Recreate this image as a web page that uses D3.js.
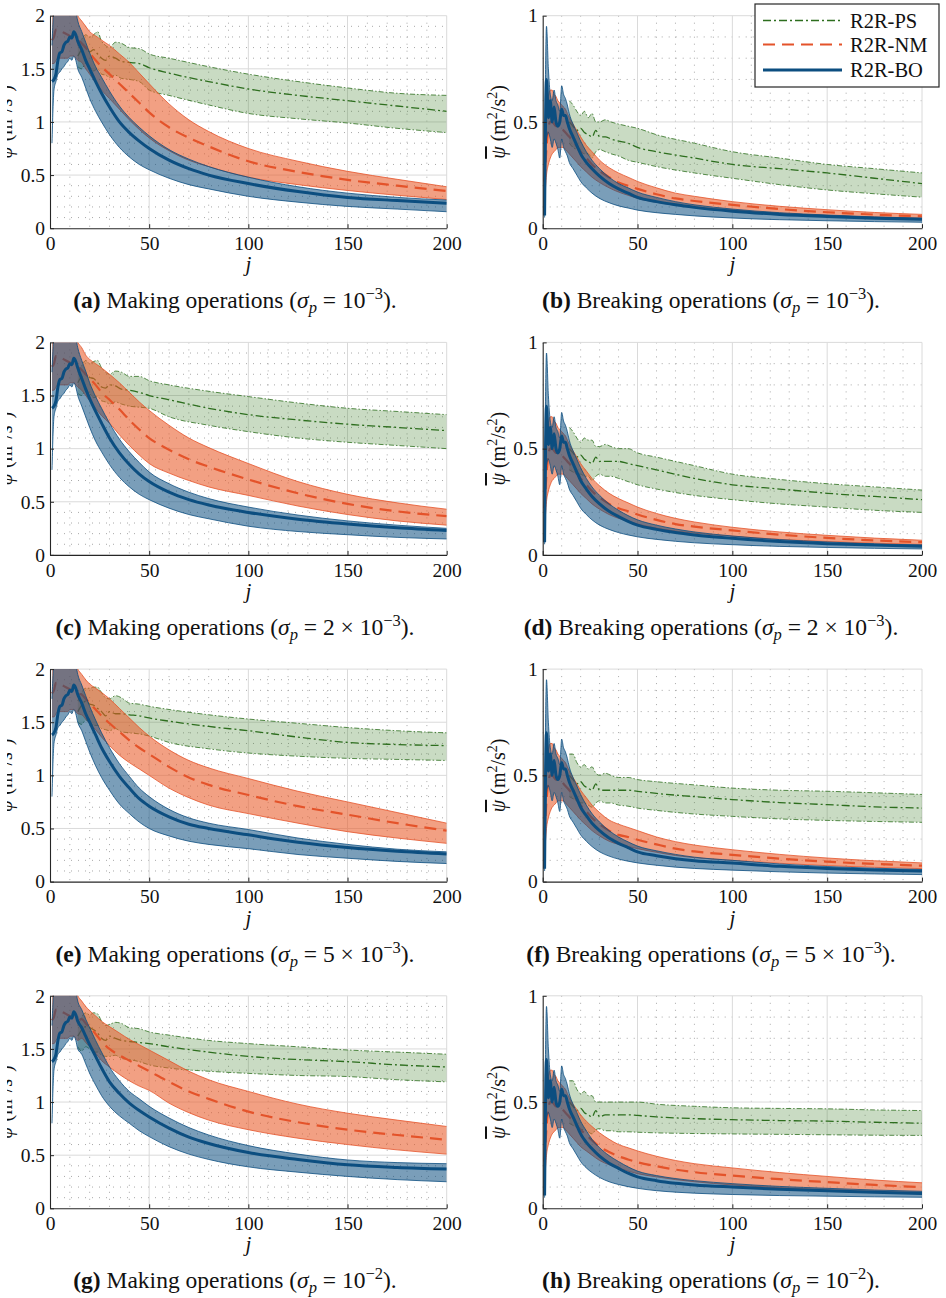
<!DOCTYPE html>
<html><head><meta charset="utf-8">
<script src="https://cdn.jsdelivr.net/npm/d3@7"></script>
<style>
body{margin:0;background:#fff}
svg{display:block}
svg text{font-family:"Liberation Serif","DejaVu Serif",serif !important;fill:#111}
</style>
</head><body>
<svg id="chart" width="946" height="1298"></svg>
<script>
// ---------------- DATA ----------------
const X_TICKS = [0, 50, 100, 150, 200];
const Y_TICKS_MAKING = [0, 0.5, 1, 1.5, 2];
const Y_TICKS_BREAKING = [0, 0.5, 1];
const SERIES_NAMES = ["R2R-PS", "R2R-NM", "R2R-BO"];
const PANEL_LETTERS = ["a","b","c","d","e","f","g","h"];
const PANEL_KIND = ["Making","Breaking","Making","Breaking","Making","Breaking","Making","Breaking"];
const SIGMA_MANT = ["","","2 × ","2 × ","5 × ","5 × ","",""];
const SIGMA_EXP = ["−3","−3","−3","−3","−3","−3","−2","−2"];

// iteration index samples
const J_EARLY = [1,2,3,4,5,6,7,8,9,10,11,12,13,14];
const J_LATE = [16,18,20,23,26,30,35,40,45,50,60,70,80,100,125,150,175,200];
const J_PS = [14,16,18,20,22,24,26,28,30,33,36,40,45,50,60,80,100,125,150,175,200];

// shared early part, making operations
const MK_BO_MEAN_E = [1.38,1.40,1.45,1.58,1.65,1.66,1.72,1.75,1.76,1.80,1.79,1.85,1.82,1.76];
const MK_BO_HI_E   = [1.72,2.06,2.10,2.10,2.08,2.10,2.05,2.10,2.10,2.06,2.10,2.10,2.04,1.95];
const MK_BO_LO_E   = [0.80,1.30,1.38,1.45,1.47,1.50,1.52,1.55,1.57,1.60,1.58,1.62,1.58,1.50];
const MK_NM_MEAN_E = [1.77,1.80,1.87,1.87,1.86,1.85,1.84,1.83,1.82,1.81,1.80,1.80,1.78,1.77];
const MK_NM_HI_E   = [2.05,2.05,2.10,2.10,2.10,2.10,2.10,2.10,2.10,2.10,2.10,2.08,2.04,2.00];
const MK_NM_LO_E   = [1.55,1.55,1.58,1.60,1.60,1.60,1.60,1.60,1.60,1.62,1.62,1.62,1.60,1.58];
// shared early part, breaking operations
const BK_BO_MEAN_E = [0.06,0.70,0.52,0.60,0.50,0.57,0.50,0.48,0.50,0.56,0.53,0.53,0.50,0.47];
const BK_BO_HI_E   = [0.30,0.95,0.75,0.63,0.60,0.65,0.60,0.58,0.55,0.67,0.63,0.61,0.58,0.54];
const BK_BO_LO_E   = [0.05,0.42,0.45,0.42,0.38,0.42,0.40,0.37,0.33,0.42,0.38,0.36,0.34,0.31];
const BK_NM_MEAN_E = [0.22,0.38,0.47,0.50,0.50,0.49,0.48,0.48,0.47,0.47,0.46,0.45,0.44,0.43];
const BK_NM_HI_E   = [0.30,0.55,0.62,0.65,0.65,0.63,0.62,0.60,0.59,0.58,0.57,0.56,0.54,0.52];
const BK_NM_LO_E   = [0.12,0.25,0.30,0.33,0.35,0.36,0.37,0.38,0.38,0.38,0.38,0.37,0.36,0.35];

// (a) making, sigma 1e-3
const A_BO_MEAN = [1.68,1.58,1.50,1.38,1.27,1.14,1.00,0.90,0.82,0.75,0.64,0.56,0.50,0.42,0.345,0.29,0.26,0.235];
const A_BO_HI   = [1.85,1.75,1.65,1.52,1.42,1.29,1.15,1.04,0.95,0.87,0.74,0.65,0.58,0.48,0.39,0.33,0.29,0.265];
const A_BO_LO   = [1.42,1.32,1.22,1.10,1.00,0.88,0.76,0.67,0.60,0.55,0.47,0.41,0.37,0.30,0.245,0.205,0.18,0.155];
const A_NM_MEAN = [1.74,1.70,1.65,1.58,1.52,1.45,1.36,1.27,1.18,1.09,0.95,0.85,0.77,0.63,0.53,0.455,0.40,0.35];
const A_NM_HI   = [1.95,1.90,1.85,1.81,1.77,1.72,1.64,1.56,1.46,1.36,1.17,1.02,0.91,0.75,0.63,0.535,0.46,0.39];
const A_NM_LO   = [1.56,1.50,1.45,1.37,1.30,1.22,1.12,1.02,0.93,0.85,0.73,0.64,0.58,0.48,0.41,0.355,0.31,0.27];
const A_PS_MEAN = [1.62,1.68,1.70,1.66,1.68,1.64,1.60,1.58,1.62,1.60,1.57,1.56,1.55,1.51,1.46,1.38,1.31,1.25,1.20,1.15,1.10];
const A_PS_HI   = [1.72,1.78,1.82,1.80,1.82,1.85,1.76,1.72,1.70,1.75,1.74,1.70,1.69,1.64,1.60,1.52,1.45,1.38,1.32,1.27,1.25];
const A_PS_LO   = [1.52,1.50,1.55,1.52,1.48,1.50,1.45,1.44,1.42,1.44,1.41,1.40,1.38,1.30,1.25,1.16,1.08,1.03,0.99,0.94,0.90];

// (b) breaking, sigma 1e-3
const B_BO_MEAN = [0.43,0.39,0.35,0.31,0.28,0.245,0.21,0.185,0.165,0.145,0.125,0.11,0.098,0.08,0.065,0.055,0.047,0.042];
const B_BO_HI   = [0.49,0.45,0.41,0.36,0.32,0.28,0.24,0.21,0.19,0.17,0.145,0.125,0.11,0.09,0.073,0.062,0.053,0.047];
const B_BO_LO   = [0.28,0.25,0.22,0.19,0.165,0.14,0.12,0.105,0.095,0.085,0.073,0.065,0.058,0.048,0.04,0.035,0.031,0.028];
const B_NM_MEAN = [0.41,0.385,0.36,0.33,0.30,0.27,0.24,0.215,0.20,0.185,0.16,0.14,0.128,0.11,0.09,0.075,0.064,0.056];
const B_NM_HI   = [0.49,0.46,0.43,0.39,0.36,0.32,0.285,0.26,0.24,0.22,0.19,0.165,0.15,0.125,0.103,0.087,0.074,0.065];
const B_NM_LO   = [0.33,0.31,0.29,0.265,0.24,0.215,0.19,0.17,0.155,0.14,0.122,0.108,0.098,0.085,0.07,0.06,0.052,0.046];
const B_PS_MEAN = [0.50,0.48,0.46,0.47,0.45,0.44,0.43,0.46,0.43,0.43,0.42,0.41,0.40,0.38,0.36,0.33,0.30,0.28,0.26,0.235,0.21];
const B_PS_HI   = [0.60,0.58,0.55,0.53,0.55,0.52,0.54,0.50,0.50,0.51,0.50,0.49,0.48,0.47,0.44,0.40,0.36,0.33,0.30,0.28,0.26];
const B_PS_LO   = [0.40,0.38,0.37,0.36,0.35,0.35,0.33,0.36,0.37,0.36,0.35,0.34,0.32,0.31,0.29,0.26,0.235,0.205,0.18,0.162,0.146];

// (c) making, sigma 2e-3
const C_BO_MEAN = [1.66,1.56,1.47,1.35,1.24,1.10,0.96,0.85,0.76,0.69,0.59,0.52,0.47,0.40,0.335,0.29,0.255,0.23];
const C_BO_HI   = [1.83,1.73,1.62,1.49,1.38,1.24,1.09,0.97,0.87,0.78,0.67,0.59,0.53,0.45,0.375,0.32,0.28,0.25];
const C_BO_LO   = [1.40,1.30,1.20,1.07,0.97,0.85,0.73,0.64,0.57,0.52,0.44,0.38,0.34,0.27,0.22,0.19,0.165,0.15];
const C_NM_MEAN = [1.74,1.70,1.66,1.60,1.53,1.46,1.37,1.27,1.18,1.10,0.99,0.90,0.83,0.71,0.58,0.48,0.41,0.365];
const C_NM_HI   = [1.95,1.88,1.84,1.80,1.76,1.70,1.62,1.53,1.44,1.36,1.22,1.10,1.01,0.86,0.69,0.57,0.49,0.43];
const C_NM_LO   = [1.55,1.50,1.45,1.38,1.31,1.24,1.13,1.03,0.94,0.86,0.77,0.70,0.64,0.56,0.46,0.38,0.32,0.28];
const C_PS_MEAN = [1.62,1.68,1.70,1.67,1.66,1.62,1.58,1.57,1.60,1.59,1.56,1.55,1.53,1.50,1.46,1.38,1.32,1.27,1.23,1.20,1.17];
const C_PS_HI   = [1.72,1.78,1.83,1.80,1.82,1.83,1.76,1.72,1.70,1.73,1.72,1.68,1.68,1.64,1.60,1.54,1.49,1.43,1.38,1.35,1.32];
const C_PS_LO   = [1.52,1.50,1.55,1.52,1.48,1.49,1.45,1.44,1.42,1.44,1.42,1.40,1.39,1.38,1.30,1.22,1.16,1.10,1.06,1.03,1.00];

// (d) breaking, sigma 2e-3
const D_BO_MEAN = [0.43,0.39,0.35,0.31,0.275,0.24,0.205,0.18,0.158,0.14,0.12,0.105,0.094,0.078,0.063,0.053,0.046,0.041];
const D_BO_HI   = [0.49,0.45,0.41,0.36,0.32,0.28,0.24,0.21,0.185,0.165,0.14,0.122,0.108,0.089,0.072,0.061,0.052,0.047];
const D_BO_LO   = [0.28,0.25,0.22,0.19,0.165,0.14,0.12,0.105,0.094,0.085,0.073,0.064,0.057,0.048,0.04,0.035,0.031,0.028];
const D_NM_MEAN = [0.41,0.385,0.36,0.33,0.30,0.27,0.24,0.22,0.205,0.19,0.165,0.145,0.133,0.115,0.095,0.08,0.068,0.06];
const D_NM_HI   = [0.49,0.46,0.43,0.395,0.36,0.325,0.29,0.265,0.245,0.225,0.195,0.172,0.155,0.13,0.108,0.092,0.079,0.069];
const D_NM_LO   = [0.33,0.31,0.29,0.265,0.24,0.215,0.19,0.172,0.158,0.145,0.126,0.112,0.102,0.088,0.073,0.063,0.055,0.049];
const D_PS_MEAN = [0.50,0.48,0.46,0.47,0.45,0.44,0.43,0.46,0.44,0.44,0.44,0.44,0.43,0.42,0.40,0.36,0.33,0.31,0.29,0.275,0.26];
const D_PS_HI   = [0.60,0.58,0.55,0.53,0.55,0.54,0.54,0.51,0.51,0.52,0.51,0.50,0.50,0.48,0.46,0.42,0.38,0.355,0.335,0.32,0.305];
const D_PS_LO   = [0.40,0.39,0.38,0.38,0.37,0.37,0.35,0.37,0.38,0.37,0.37,0.36,0.345,0.33,0.31,0.28,0.26,0.24,0.225,0.21,0.20];

// (e) making, sigma 5e-3
const E_BO_MEAN = [1.68,1.58,1.50,1.38,1.26,1.13,0.99,0.88,0.78,0.71,0.61,0.54,0.50,0.44,0.37,0.32,0.285,0.26];
const E_BO_HI   = [1.85,1.75,1.65,1.52,1.40,1.26,1.11,0.99,0.88,0.80,0.68,0.60,0.55,0.49,0.41,0.35,0.305,0.28];
const E_BO_LO   = [1.42,1.32,1.22,1.09,0.98,0.86,0.73,0.64,0.56,0.50,0.43,0.38,0.35,0.31,0.255,0.22,0.19,0.17];
const E_NM_MEAN = [1.76,1.72,1.68,1.62,1.56,1.49,1.41,1.33,1.26,1.20,1.08,0.98,0.91,0.815,0.71,0.63,0.55,0.48];
const E_NM_HI   = [1.95,1.90,1.86,1.82,1.78,1.72,1.63,1.54,1.45,1.37,1.24,1.14,1.07,0.97,0.85,0.75,0.65,0.55];
const E_NM_LO   = [1.57,1.53,1.49,1.43,1.36,1.28,1.19,1.12,1.06,1.00,0.88,0.79,0.72,0.64,0.55,0.47,0.41,0.36];
const E_PS_MEAN = [1.60,1.66,1.70,1.67,1.66,1.63,1.60,1.56,1.60,1.58,1.58,1.57,1.56,1.54,1.51,1.46,1.42,1.36,1.31,1.29,1.28];
const E_PS_HI   = [1.70,1.78,1.82,1.82,1.83,1.83,1.78,1.73,1.72,1.75,1.73,1.68,1.67,1.65,1.62,1.57,1.53,1.49,1.45,1.42,1.40];
const E_PS_LO   = [1.50,1.48,1.52,1.50,1.47,1.47,1.44,1.43,1.42,1.44,1.41,1.40,1.39,1.37,1.31,1.25,1.21,1.18,1.16,1.15,1.14];

// (f) breaking, sigma 5e-3
const F_BO_MEAN = [0.43,0.39,0.35,0.31,0.275,0.24,0.205,0.18,0.16,0.14,0.122,0.108,0.098,0.087,0.072,0.062,0.055,0.05];
const F_BO_HI   = [0.49,0.45,0.41,0.36,0.32,0.28,0.24,0.21,0.187,0.167,0.145,0.128,0.115,0.10,0.083,0.071,0.063,0.057];
const F_BO_LO   = [0.28,0.25,0.22,0.19,0.165,0.14,0.12,0.106,0.096,0.088,0.077,0.068,0.062,0.054,0.046,0.04,0.036,0.033];
const F_NM_MEAN = [0.41,0.385,0.36,0.33,0.30,0.27,0.24,0.22,0.21,0.197,0.175,0.155,0.142,0.126,0.108,0.094,0.083,0.075];
const F_NM_HI   = [0.49,0.46,0.43,0.395,0.36,0.325,0.29,0.27,0.255,0.24,0.21,0.188,0.172,0.15,0.128,0.111,0.098,0.088];
const F_NM_LO   = [0.33,0.31,0.29,0.265,0.24,0.215,0.19,0.175,0.165,0.155,0.138,0.123,0.113,0.10,0.086,0.075,0.067,0.061];
const F_PS_MEAN = [0.50,0.48,0.46,0.47,0.45,0.44,0.43,0.46,0.43,0.43,0.43,0.43,0.43,0.425,0.415,0.40,0.386,0.372,0.362,0.352,0.346];
const F_PS_HI   = [0.60,0.60,0.56,0.54,0.55,0.53,0.54,0.51,0.50,0.51,0.50,0.49,0.49,0.48,0.47,0.455,0.44,0.43,0.425,0.418,0.41];
const F_PS_LO   = [0.40,0.39,0.38,0.37,0.37,0.36,0.35,0.37,0.38,0.37,0.37,0.36,0.355,0.346,0.335,0.318,0.307,0.295,0.288,0.283,0.279];

// (g) making, sigma 1e-2
const G_BO_MEAN = [1.70,1.62,1.54,1.43,1.32,1.19,1.08,0.99,0.92,0.86,0.755,0.67,0.61,0.525,0.46,0.41,0.385,0.37];
const G_BO_HI   = [1.87,1.78,1.70,1.58,1.47,1.33,1.20,1.10,1.03,0.96,0.85,0.76,0.69,0.59,0.51,0.455,0.43,0.42];
const G_BO_LO   = [1.45,1.36,1.27,1.16,1.06,0.96,0.87,0.80,0.73,0.675,0.58,0.51,0.46,0.39,0.34,0.30,0.27,0.25];
const G_NM_MEAN = [1.78,1.74,1.70,1.64,1.57,1.50,1.44,1.39,1.34,1.29,1.19,1.10,1.03,0.91,0.81,0.74,0.69,0.645];
const G_NM_HI   = [1.95,1.90,1.86,1.81,1.76,1.71,1.65,1.59,1.54,1.49,1.39,1.29,1.21,1.10,0.98,0.895,0.83,0.77];
const G_NM_LO   = [1.60,1.56,1.52,1.46,1.39,1.33,1.26,1.20,1.15,1.11,0.99,0.90,0.83,0.74,0.66,0.60,0.55,0.51];
const G_PS_MEAN = [1.62,1.68,1.71,1.70,1.68,1.65,1.60,1.58,1.62,1.60,1.58,1.57,1.56,1.55,1.52,1.47,1.43,1.40,1.38,1.35,1.33];
const G_PS_HI   = [1.72,1.80,1.84,1.82,1.84,1.83,1.76,1.72,1.73,1.75,1.74,1.70,1.69,1.66,1.63,1.58,1.55,1.52,1.49,1.47,1.45];
const G_PS_LO   = [1.52,1.48,1.52,1.50,1.47,1.47,1.44,1.43,1.43,1.44,1.41,1.40,1.38,1.35,1.32,1.29,1.27,1.25,1.24,1.21,1.19];

// (h) breaking, sigma 1e-2
const H_BO_MEAN = [0.43,0.39,0.35,0.31,0.28,0.245,0.212,0.188,0.165,0.148,0.13,0.118,0.11,0.10,0.09,0.083,0.076,0.07];
const H_BO_HI   = [0.49,0.45,0.41,0.365,0.325,0.285,0.248,0.22,0.195,0.175,0.154,0.14,0.13,0.116,0.103,0.094,0.086,0.08];
const H_BO_LO   = [0.28,0.25,0.22,0.19,0.168,0.145,0.125,0.112,0.102,0.094,0.083,0.076,0.071,0.065,0.06,0.057,0.054,0.052];
const H_NM_MEAN = [0.41,0.39,0.37,0.345,0.32,0.29,0.265,0.245,0.23,0.217,0.198,0.182,0.17,0.154,0.137,0.123,0.11,0.10];
const H_NM_HI   = [0.49,0.465,0.44,0.41,0.385,0.355,0.325,0.30,0.285,0.27,0.245,0.225,0.21,0.19,0.168,0.15,0.133,0.12];
const H_NM_LO   = [0.33,0.31,0.29,0.27,0.25,0.225,0.205,0.19,0.175,0.163,0.148,0.135,0.125,0.11,0.096,0.085,0.076,0.068];
const H_PS_MEAN = [0.50,0.48,0.46,0.47,0.45,0.44,0.43,0.46,0.43,0.44,0.44,0.44,0.44,0.437,0.43,0.422,0.417,0.413,0.41,0.405,0.40];
const H_PS_HI   = [0.60,0.60,0.56,0.54,0.55,0.53,0.53,0.50,0.50,0.50,0.50,0.50,0.50,0.50,0.49,0.48,0.473,0.47,0.468,0.463,0.46];
const H_PS_LO   = [0.40,0.39,0.38,0.37,0.37,0.36,0.35,0.37,0.375,0.365,0.365,0.36,0.36,0.358,0.355,0.352,0.35,0.348,0.346,0.344,0.343];

// ---------------- ASSEMBLY ----------------
function band(js, mean, lo, hi) {
  return js.map((j, k) => ({ j: j, m: mean[k], lo: lo[k], hi: hi[k] }));
}
function panel(kind, bo, nm, ps) {
  const mk = kind === "Making";
  return {
    PS: band(J_PS, ps[0], ps[1], ps[2]),
    NM: band(J_EARLY.concat(J_LATE),
      (mk ? MK_NM_MEAN_E : BK_NM_MEAN_E).concat(nm[0]),
      (mk ? MK_NM_LO_E : BK_NM_LO_E).concat(nm[1]),
      (mk ? MK_NM_HI_E : BK_NM_HI_E).concat(nm[2])),
    BO: band(J_EARLY.concat(J_LATE),
      (mk ? MK_BO_MEAN_E : BK_BO_MEAN_E).concat(bo[0]),
      (mk ? MK_BO_LO_E : BK_BO_LO_E).concat(bo[1]),
      (mk ? MK_BO_HI_E : BK_BO_HI_E).concat(bo[2]))
  };
}
const PANELS = [
  panel("Making",   [A_BO_MEAN,A_BO_LO,A_BO_HI], [A_NM_MEAN,A_NM_LO,A_NM_HI], [A_PS_MEAN,A_PS_LO,A_PS_HI]),
  panel("Breaking", [B_BO_MEAN,B_BO_LO,B_BO_HI], [B_NM_MEAN,B_NM_LO,B_NM_HI], [B_PS_MEAN,B_PS_LO,B_PS_HI]),
  panel("Making",   [C_BO_MEAN,C_BO_LO,C_BO_HI], [C_NM_MEAN,C_NM_LO,C_NM_HI], [C_PS_MEAN,C_PS_LO,C_PS_HI]),
  panel("Breaking", [D_BO_MEAN,D_BO_LO,D_BO_HI], [D_NM_MEAN,D_NM_LO,D_NM_HI], [D_PS_MEAN,D_PS_LO,D_PS_HI]),
  panel("Making",   [E_BO_MEAN,E_BO_LO,E_BO_HI], [E_NM_MEAN,E_NM_LO,E_NM_HI], [E_PS_MEAN,E_PS_LO,E_PS_HI]),
  panel("Breaking", [F_BO_MEAN,F_BO_LO,F_BO_HI], [F_NM_MEAN,F_NM_LO,F_NM_HI], [F_PS_MEAN,F_PS_LO,F_PS_HI]),
  panel("Making",   [G_BO_MEAN,G_BO_LO,G_BO_HI], [G_NM_MEAN,G_NM_LO,G_NM_HI], [G_PS_MEAN,G_PS_LO,G_PS_HI]),
  panel("Breaking", [H_BO_MEAN,H_BO_LO,H_BO_HI], [H_NM_MEAN,H_NM_LO,H_NM_HI], [H_PS_MEAN,H_PS_LO,H_PS_HI])
];

// ---------------- STYLE ----------------
const SERIF = '"Liberation Serif","DejaVu Serif",serif';
const STYLE = {
  PS: { line: "#2d6e1e", fill: "rgba(60,125,40,0.28)", width: 1.3, dash: "8,3,2,3", edgeDash: "5,2,1.5,2" },
  NM: { line: "#e4532a", fill: "rgba(232,92,42,0.58)", width: 2.2, dash: "12,7", edgeDash: null },
  BO: { line: "#0c4e80", fill: "rgba(12,78,128,0.55)", width: 3, dash: null, edgeDash: null }
};
const COLS = [ { x0: 50, x1: 446.7 }, { x0: 542.7, x1: 922 } ];
const ROW_TOP0 = 15.7, ROW_STEP = 326.7, PLOT_H = 212.5;
const TICK_FONT = 19.5;

const svg = d3.select("#chart");
const defs = svg.append("defs");

PANELS.forEach((P, i) => {
  const col = i % 2, row = Math.floor(i / 2);
  const making = PANEL_KIND[i] === "Making";
  const x0 = COLS[col].x0, x1 = COLS[col].x1;
  const top = ROW_TOP0 + row * ROW_STEP, bot = top + PLOT_H;
  const yMax = making ? 2 : 1;
  const x = d3.scaleLinear().domain([0, 200]).range([x0, x1]);
  const y = d3.scaleLinear().domain([0, yMax]).range([bot, top]);
  const g = svg.append("g");

  // minor dotted grid
  const minorX = d3.range(10, 200, 10).filter(v => v % 50 !== 0);
  const minorY = d3.range(1, yMax * 10).map(v => v / 10).filter(v => Math.abs(v * 2 - Math.round(v * 2)) > 1e-6);
  g.selectAll(".mx").data(minorX).join("line")
    .attr("x1", d => x(d)).attr("x2", d => x(d)).attr("y1", top).attr("y2", bot)
    .attr("stroke", "#a8a8a8").attr("stroke-width", 1).attr("stroke-dasharray", "1,6");
  g.selectAll(".my").data(minorY).join("line")
    .attr("x1", x0).attr("x2", x1).attr("y1", d => y(d)).attr("y2", d => y(d))
    .attr("stroke", "#a8a8a8").attr("stroke-width", 1).attr("stroke-dasharray", "1,6");
  // major grid
  const yTicks = making ? Y_TICKS_MAKING : Y_TICKS_BREAKING;
  g.selectAll(".gx").data(X_TICKS.slice(1)).join("line")
    .attr("x1", d => x(d)).attr("x2", d => x(d)).attr("y1", top).attr("y2", bot)
    .attr("stroke", "#dadada").attr("stroke-width", 1);
  g.selectAll(".gy").data(yTicks.slice(1)).join("line")
    .attr("x1", x0).attr("x2", x1).attr("y1", d => y(d)).attr("y2", d => y(d))
    .attr("stroke", "#dadada").attr("stroke-width", 1);

  // clip
  const cid = "clip" + i;
  defs.append("clipPath").attr("id", cid).append("rect")
    .attr("x", x0).attr("y", top).attr("width", x1 - x0).attr("height", bot - top);
  const plot = g.append("g").attr("clip-path", `url(#${cid})`);

  const area = d3.area().x(d => x(d.j)).y0(d => y(d.lo)).y1(d => y(d.hi)).curve(d3.curveMonotoneX);
  const lineM = d3.line().x(d => x(d.j)).y(d => y(d.m)).curve(d3.curveMonotoneX);
  const lineLo = d3.line().x(d => x(d.j)).y(d => y(d.lo)).curve(d3.curveMonotoneX);
  const lineHi = d3.line().x(d => x(d.j)).y(d => y(d.hi)).curve(d3.curveMonotoneX);

  ["PS", "NM", "BO"].forEach(key => {
    const s = STYLE[key], data = P[key];
    plot.append("path").attr("d", area(data)).attr("fill", s.fill).attr("stroke", "none");
    [lineLo, lineHi].forEach(fn => {
      plot.append("path").attr("d", fn(data)).attr("fill", "none")
        .attr("stroke", s.line).attr("stroke-width", 0.8)
        .attr("stroke-dasharray", s.edgeDash);
    });
    plot.append("path").attr("d", lineM(data)).attr("fill", "none")
      .attr("stroke", s.line).attr("stroke-width", s.width)
      .attr("stroke-dasharray", s.dash);
  });

  // axes
  const ax = g.append("g").attr("transform", `translate(0,${bot})`)
    .call(d3.axisBottom(x).tickValues(X_TICKS).tickFormat(d3.format("d")).tickSizeInner(-4).tickSizeOuter(0).tickPadding(8));
  const ay = g.append("g").attr("transform", `translate(${x0},0)`)
    .call(d3.axisLeft(y).tickValues(yTicks).tickFormat(d => String(d)).tickSizeInner(-4).tickSizeOuter(0).tickPadding(5));
  [ax, ay].forEach(a => {
    a.attr("font-family", null).attr("font-size", null);
    a.select(".domain").attr("stroke", "#262626").attr("stroke-width", 1.1);
    a.selectAll(".tick line").attr("stroke", "#262626");
    a.selectAll(".tick text").style("font-family", SERIF)
      .style("font-size", TICK_FONT + "px").attr("fill", "#111");
  });

  // x label
  g.append("text").attr("x", (x0 + x1) / 2).attr("y", bot + 43)
    .attr("text-anchor", "middle").style("font-size", "21px").attr("font-style", "italic").text("j");

  // y label (left column: cut by the page edge, as in the source figure)
  let host = g;
  if (col === 0) {
    const lc = "ylclip" + i;
    defs.append("clipPath").attr("id", lc).append("rect")
      .attr("x", 7).attr("y", top - 20).attr("width", 40).attr("height", PLOT_H + 40);
    host = g.append("g").attr("clip-path", `url(#${lc})`);
  }
  const yl = host.append("text").attr("text-anchor", "middle").style("font-size", "20px")
    .attr("transform", `translate(${x0 - 37.7},${(top + bot) / 2}) rotate(-90)`);
  yl.append("tspan").attr("font-style", "italic").style("text-decoration", "overline").text("ψ");
  yl.append("tspan").text("\u00a0(m");
  yl.append("tspan").style("font-size", "14px").attr("dy", -8).text("2");
  yl.append("tspan").attr("dy", 8).text("/s");
  yl.append("tspan").style("font-size", "14px").attr("dy", -8).text("2");
  yl.append("tspan").attr("dy", 8).text(")");

  // caption
  const cx = col === 0 ? 235 : 711;
  const cap = g.append("text").attr("x", cx).attr("y", bot + 80).attr("text-anchor", "middle").style("font-size", "23.5px");
  cap.append("tspan").attr("font-weight", "bold").text(`(${PANEL_LETTERS[i]})`);
  cap.append("tspan").text(` ${PANEL_KIND[i]} operations (`);
  cap.append("tspan").attr("font-style", "italic").text("σ");
  cap.append("tspan").attr("font-style", "italic").style("font-size", "16.5px").attr("dy", 5).text("p");
  cap.append("tspan").attr("dy", -5).text(` = ${SIGMA_MANT[i]}10`);
  cap.append("tspan").style("font-size", "16.5px").attr("dy", -9).text(SIGMA_EXP[i]);
  cap.append("tspan").attr("dy", 9).text(").");
});

// legend
const lg = svg.append("g");
lg.append("rect").attr("x", 755).attr("y", 4).attr("width", 184).attr("height", 83)
  .attr("fill", "#fff").attr("stroke", "#262626").attr("stroke-width", 1.2);
["PS", "NM", "BO"].forEach((key, k) => {
  const yy = [20.5, 44.5, 70][k];
  const s = STYLE[key];
  lg.append("line").attr("x1", 763).attr("x2", 842).attr("y1", yy).attr("y2", yy)
    .attr("stroke", s.line).attr("stroke-width", s.width).attr("stroke-dasharray", s.dash);
  lg.append("text").attr("x", 850).attr("y", yy + 7).style("font-size", "20.5px").text(SERIES_NAMES[k]);
});
</script>
</body></html>
